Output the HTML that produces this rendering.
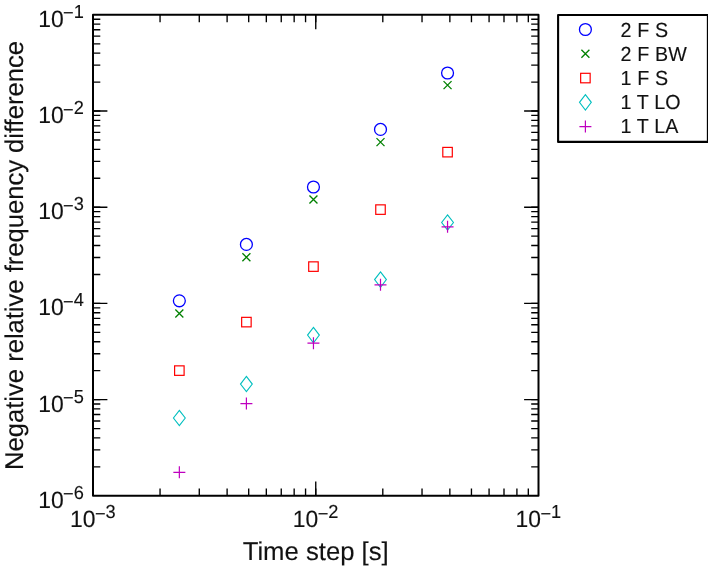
<!DOCTYPE html>
<html lang="en"><head><meta charset="utf-8"><title>Negative relative frequency difference vs. time step</title>
<style>html,body{margin:0;padding:0;background:#fff}body{width:708px;height:570px;overflow:hidden}svg{display:block}text{font-family:"Liberation Sans",Arial,Helvetica,sans-serif;fill:#111;stroke:#111;stroke-width:0.12px;text-rendering:geometricPrecision}</style>
</head><body>
<svg width="708" height="570" viewBox="0 0 708 570">
<rect x="0" y="0" width="708" height="570" fill="#ffffff"/>
<g fill="none" stroke="#000" stroke-width="1.35">
<path d="M160.05 495.8V488.5M160.05 14.85V22.15M199.28 495.8V488.5M199.28 14.85V22.15M227.11 495.8V488.5M227.11 14.85V22.15M248.7 495.8V488.5M248.7 14.85V22.15M266.33 495.8V488.5M266.33 14.85V22.15M281.25 495.8V488.5M281.25 14.85V22.15M294.16 495.8V488.5M294.16 14.85V22.15M305.56 495.8V488.5M305.56 14.85V22.15M315.75 495.8V488.5M315.75 14.85V22.15M382.8 495.8V488.5M382.8 14.85V22.15M422.03 495.8V488.5M422.03 14.85V22.15M449.86 495.8V488.5M449.86 14.85V22.15M471.45 495.8V488.5M471.45 14.85V22.15M489.08 495.8V488.5M489.08 14.85V22.15M504 495.8V488.5M504 14.85V22.15M516.91 495.8V488.5M516.91 14.85V22.15M528.31 495.8V488.5M528.31 14.85V22.15M93 466.84H100.3M538.5 466.84H531.2M93 449.91H100.3M538.5 449.91H531.2M93 437.89H100.3M538.5 437.89H531.2M93 428.57H100.3M538.5 428.57H531.2M93 420.95H100.3M538.5 420.95H531.2M93 414.51H100.3M538.5 414.51H531.2M93 408.93H100.3M538.5 408.93H531.2M93 404.01H100.3M538.5 404.01H531.2M93 399.61H100.3M538.5 399.61H531.2M93 370.65H100.3M538.5 370.65H531.2M93 353.72H100.3M538.5 353.72H531.2M93 341.7H100.3M538.5 341.7H531.2M93 332.38H100.3M538.5 332.38H531.2M93 324.76H100.3M538.5 324.76H531.2M93 318.32H100.3M538.5 318.32H531.2M93 312.74H100.3M538.5 312.74H531.2M93 307.82H100.3M538.5 307.82H531.2M93 303.42H100.3M538.5 303.42H531.2M93 274.46H100.3M538.5 274.46H531.2M93 257.53H100.3M538.5 257.53H531.2M93 245.51H100.3M538.5 245.51H531.2M93 236.19H100.3M538.5 236.19H531.2M93 228.57H100.3M538.5 228.57H531.2M93 222.13H100.3M538.5 222.13H531.2M93 216.55H100.3M538.5 216.55H531.2M93 211.63H100.3M538.5 211.63H531.2M93 207.23H100.3M538.5 207.23H531.2M93 178.27H100.3M538.5 178.27H531.2M93 161.34H100.3M538.5 161.34H531.2M93 149.32H100.3M538.5 149.32H531.2M93 140H100.3M538.5 140H531.2M93 132.38H100.3M538.5 132.38H531.2M93 125.94H100.3M538.5 125.94H531.2M93 120.36H100.3M538.5 120.36H531.2M93 115.44H100.3M538.5 115.44H531.2M93 111.04H100.3M538.5 111.04H531.2M93 82.08H100.3M538.5 82.08H531.2M93 65.15H100.3M538.5 65.15H531.2M93 53.13H100.3M538.5 53.13H531.2M93 43.81H100.3M538.5 43.81H531.2M93 36.19H100.3M538.5 36.19H531.2M93 29.75H100.3M538.5 29.75H531.2M93 24.17H100.3M538.5 24.17H531.2M93 19.25H100.3M538.5 19.25H531.2"/>
<path d="M315.75 495.8V481.4M315.75 14.85V29.25M93 399.61H107.4M538.5 399.61H524.1M93 303.42H107.4M538.5 303.42H524.1M93 207.23H107.4M538.5 207.23H524.1M93 111.04H107.4M538.5 111.04H524.1"/>
</g>
<g>
<circle cx="179.35" cy="300.8" r="5.95" fill="none" stroke="#0000ff" stroke-width="1.3"/>
<circle cx="246.4" cy="244.4" r="5.95" fill="none" stroke="#0000ff" stroke-width="1.3"/>
<circle cx="313.45" cy="187" r="5.95" fill="none" stroke="#0000ff" stroke-width="1.3"/>
<circle cx="380.5" cy="129.4" r="5.95" fill="none" stroke="#0000ff" stroke-width="1.3"/>
<circle cx="447.55" cy="73" r="5.95" fill="none" stroke="#0000ff" stroke-width="1.3"/>
</g>
<g>
<path d="M175.35 309.5L183.35 317.5M175.35 317.5L183.35 309.5" fill="none" stroke="#008000" stroke-width="1.3"/>
<path d="M242.4 253.2L250.4 261.2M242.4 261.2L250.4 253.2" fill="none" stroke="#008000" stroke-width="1.3"/>
<path d="M309.45 195.5L317.45 203.5M309.45 203.5L317.45 195.5" fill="none" stroke="#008000" stroke-width="1.3"/>
<path d="M376.5 138.1L384.5 146.1M376.5 146.1L384.5 138.1" fill="none" stroke="#008000" stroke-width="1.3"/>
<path d="M443.55 81.1L451.55 89.1M443.55 89.1L451.55 81.1" fill="none" stroke="#008000" stroke-width="1.3"/>
</g>
<g>
<rect x="174.6" y="365.85" width="9.5" height="9.5" fill="none" stroke="#ff0000" stroke-width="1.2"/>
<rect x="241.65" y="317.35" width="9.5" height="9.5" fill="none" stroke="#ff0000" stroke-width="1.2"/>
<rect x="308.7" y="261.85" width="9.5" height="9.5" fill="none" stroke="#ff0000" stroke-width="1.2"/>
<rect x="375.75" y="204.85" width="9.5" height="9.5" fill="none" stroke="#ff0000" stroke-width="1.2"/>
<rect x="442.8" y="147.4" width="9.5" height="9.5" fill="none" stroke="#ff0000" stroke-width="1.2"/>
</g>
<g>
<path d="M179.35 410.35L185.25 418L179.35 425.65L173.45 418Z" fill="none" stroke="#00bfbf" stroke-width="1.1"/>
<path d="M246.4 376.4L252.3 384.05L246.4 391.7L240.5 384.05Z" fill="none" stroke="#00bfbf" stroke-width="1.1"/>
<path d="M313.45 327.45L319.35 335.1L313.45 342.75L307.55 335.1Z" fill="none" stroke="#00bfbf" stroke-width="1.1"/>
<path d="M380.5 271.95L386.4 279.6L380.5 287.25L374.6 279.6Z" fill="none" stroke="#00bfbf" stroke-width="1.1"/>
<path d="M447.55 214.85L453.45 222.5L447.55 230.15L441.65 222.5Z" fill="none" stroke="#00bfbf" stroke-width="1.1"/>
</g>
<g>
<path d="M173.35 472.3L185.35 472.3M179.35 466.3L179.35 478.3" fill="none" stroke="#bf00bf" stroke-width="1.2"/>
<path d="M240.4 403.6L252.4 403.6M246.4 397.6L246.4 409.6" fill="none" stroke="#bf00bf" stroke-width="1.2"/>
<path d="M307.45 343.2L319.45 343.2M313.45 337.2L313.45 349.2" fill="none" stroke="#bf00bf" stroke-width="1.2"/>
<path d="M374.5 284.8L386.5 284.8M380.5 278.8L380.5 290.8" fill="none" stroke="#bf00bf" stroke-width="1.2"/>
<path d="M441.55 226.8L453.55 226.8M447.55 220.8L447.55 232.8" fill="none" stroke="#bf00bf" stroke-width="1.2"/>
</g>
<rect x="93" y="14.85" width="445.5" height="480.95" fill="none" stroke="#000" stroke-width="2" stroke-linejoin="round"/>
<g>
<text transform="translate(83.85 507.7) scale(1 1.03)" text-anchor="end" font-size="22.9">10<tspan font-size="18.2" dx="-0.6" dy="-7.09">−</tspan><tspan font-size="18.2" dy="-1.65">6</tspan></text>
<text transform="translate(83.85 411.51) scale(1 1.03)" text-anchor="end" font-size="22.9">10<tspan font-size="18.2" dx="-0.6" dy="-7.09">−</tspan><tspan font-size="18.2" dy="-1.65">5</tspan></text>
<text transform="translate(83.85 315.32) scale(1 1.03)" text-anchor="end" font-size="22.9">10<tspan font-size="18.2" dx="-0.6" dy="-7.09">−</tspan><tspan font-size="18.2" dy="-1.65">4</tspan></text>
<text transform="translate(83.85 219.13) scale(1 1.03)" text-anchor="end" font-size="22.9">10<tspan font-size="18.2" dx="-0.6" dy="-7.09">−</tspan><tspan font-size="18.2" dy="-1.65">3</tspan></text>
<text transform="translate(83.85 122.94) scale(1 1.03)" text-anchor="end" font-size="22.9">10<tspan font-size="18.2" dx="-0.6" dy="-7.09">−</tspan><tspan font-size="18.2" dy="-1.65">2</tspan></text>
<text transform="translate(83.85 26.75) scale(1 1.03)" text-anchor="end" font-size="22.9">10<tspan font-size="18.2" dx="-0.6" dy="-7.09">−</tspan><tspan font-size="18.2" dy="-1.65">1</tspan></text>
</g><g>
<text transform="translate(115.7 527.3) scale(1 1.03)" text-anchor="end" font-size="22.9">10<tspan font-size="18.2" dx="-0.6" dy="-7.09">−</tspan><tspan font-size="18.2" dy="-1.65">3</tspan></text>
<text transform="translate(338.45 527.3) scale(1 1.03)" text-anchor="end" font-size="22.9">10<tspan font-size="18.2" dx="-0.6" dy="-7.09">−</tspan><tspan font-size="18.2" dy="-1.65">2</tspan></text>
<text transform="translate(561.2 527.3) scale(1 1.03)" text-anchor="end" font-size="22.9">10<tspan font-size="18.2" dx="-0.6" dy="-7.09">−</tspan><tspan font-size="18.2" dy="-1.65">1</tspan></text>
</g>
<text x="315.7" y="560" text-anchor="middle" font-size="25.7">Time step [s]</text>
<text transform="translate(23.2 255.5) rotate(-90)" text-anchor="middle" letter-spacing="-0.05" font-size="25.7">Negative relative frequency difference</text>
<rect x="558.1" y="15" width="149.8" height="126.9" fill="#fff" stroke="#000" stroke-width="2.1" stroke-linejoin="round"/>
<circle cx="585.4" cy="29.5" r="5.95" fill="none" stroke="#0000ff" stroke-width="1.3"/>
<text transform="translate(620.5 36.6) scale(1 1.03)" word-spacing="0.3" font-size="19.7">2 F S</text>
<path d="M581.4 49.78L589.4 57.78M581.4 57.78L589.4 49.78" fill="none" stroke="#008000" stroke-width="1.3"/>
<text transform="translate(620.5 60.8) scale(1 1.03)" word-spacing="0.3" font-size="19.7">2 F BW</text>
<rect x="580.65" y="73.31" width="9.5" height="9.5" fill="none" stroke="#ff0000" stroke-width="1.2"/>
<text transform="translate(620.5 85) scale(1 1.03)" word-spacing="0.3" font-size="19.7">1 F S</text>
<path d="M585.4 94.69L591.3 102.34L585.4 109.99L579.5 102.34Z" fill="none" stroke="#00bfbf" stroke-width="1.1"/>
<text transform="translate(620.5 109.2) scale(1 1.03)" word-spacing="0.3" font-size="19.7">1 T LO</text>
<path d="M579.4 126.62L591.4 126.62M585.4 120.62L585.4 132.62" fill="none" stroke="#bf00bf" stroke-width="1.2"/>
<text transform="translate(620.5 133.4) scale(1 1.03)" word-spacing="0.3" font-size="19.7">1 T LA</text>
</svg>
</body></html>
